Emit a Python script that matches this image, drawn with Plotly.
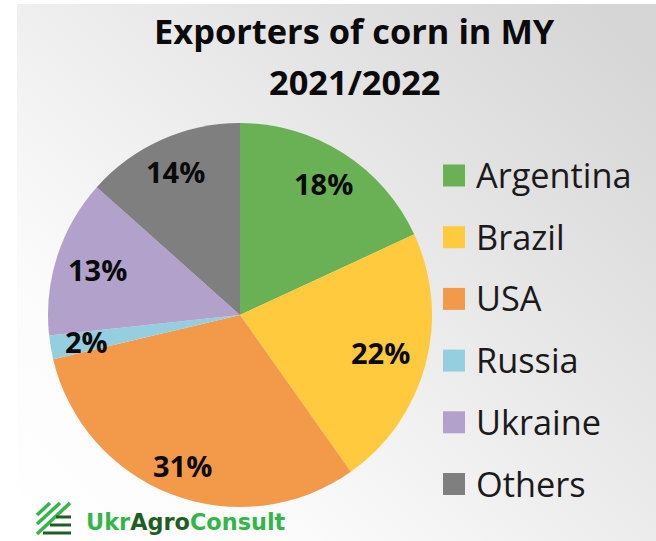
import base64
import math
import plotly.graph_objects as go

categories = ["Argentina", "Brazil", "USA", "Russia", "Ukraine", "Others"]
values = [18.1, 22.1, 31.1, 2.0, 13.3, 13.4]
percent_labels = ["18%", "22%", "31%", "2%", "13%", "14%"]
colors = ["#6ab155", "#ffca3e", "#f39a4a", "#95cfdf", "#b2a1cb", "#7f7f7f"]
label_radius = [0.81, 0.76, 0.84, 0.81, 0.78, 0.82]
W, H = 656, 541
CX, CY, R = 240, 315, 192

svg = ('<svg xmlns="http://www.w3.org/2000/svg" width="656" height="541">'
       '<defs><linearGradient id="g" x1="0" y1="1" x2="1" y2="0.12">'
       '<stop offset="0" stop-color="#ffffff"/><stop offset="0.25" stop-color="#fbfbfb"/>'
       '<stop offset="1" stop-color="#d6d6d6"/></linearGradient></defs>'
       '<rect x="17" y="4" width="639" height="537" fill="url(#g)"/></svg>')
bg = "data:image/svg+xml;base64," + base64.b64encode(svg.encode()).decode()

fig = go.Figure(go.Pie(
    labels=categories, values=values, sort=False, direction="clockwise", rotation=0,
    marker=dict(colors=colors, line=dict(width=0)),
    textinfo="none",
    domain=dict(x=[(CX-R)/W, (CX+R)/W], y=[1-(CY+R)/H, 1-(CY-R)/H]), showlegend=False,
    hoverinfo="label+percent",
))

shapes, ann = [], []
total = sum(values)
cum = 0
for v, t, f in zip(values, percent_labels, label_radius):
    a = 2*math.pi*(cum + v/2)/total
    cum += v
    ann.append(dict(text=f"<b>{t}</b>", xref="paper", yref="paper",
                    x=(CX + f*R*math.sin(a))/W, y=1-(CY - f*R*math.cos(a))/H,
                    xanchor="center", yanchor="middle", showarrow=False,
                    font=dict(family="Open Sans", size=29, color="#0a0a0a")))

for i, (c, col) in enumerate(zip(categories, colors)):
    y = 175.5 + i*61.7
    shapes.append(dict(type="rect", xref="paper", yref="paper", x0=443/W, x1=465/W,
                       y0=1-(y+11)/H, y1=1-(y-11)/H, fillcolor=col, line_width=0))
    ann.append(dict(text=c, xref="paper", yref="paper", x=474/W, y=1-(y-1)/H, xanchor="left", yanchor="middle",
                    showarrow=False, font=dict(family="Open Sans", size=34.3, color="#1a1a1a")))

# title
for line, ty in [("Exporters of corn in MY", 31), ("2021/2022", 81)]:
    ann.append(dict(text=f"<b>{line}</b>", xref="paper", yref="paper",
                    x=354.5/W, y=1-ty/H, xanchor="center", yanchor="middle", showarrow=False,
                    font=dict(family="Open Sans", size=34.4, color="#0a0a0a")))
# logo
ann.append(dict(text='<b><span style="color:#35b44a">Ukr</span><span style="color:#1f5d25">Agro</span>'
                     '<span style="color:#35b44a">Consult</span></b>',
                xref="paper", yref="paper", x=84/W, y=1-522/H, xanchor="left", yanchor="middle",
                showarrow=False, font=dict(family="DejaVu Sans", size=22.4)))
for x0, y0, x1, y1 in [(37, 515, 50, 503), (37, 524, 60, 503), (37, 534, 70, 503)]:
    shapes.append(dict(type="line", xref="paper", yref="paper", x0=x0/W, y0=1-y0/H, x1=x1/W, y1=1-y1/H,
                       line=dict(color="#35b44a", width=3.5)))
for y0, x0 in [(517, 56), (525, 50), (533, 43)]:
    shapes.append(dict(type="line", xref="paper", yref="paper", x0=x0/W, y0=1-y0/H, x1=71/W, y1=1-y0/H,
                       line=dict(color="#1f5d25", width=3)))

fig.update_layout(width=W, height=H, margin=dict(l=0, r=0, t=0, b=0), paper_bgcolor="white",
                  shapes=shapes, annotations=ann,
                  images=[dict(source=bg, xref="paper", yref="paper", x=0, y=1, sizex=1, sizey=1,
                               sizing="stretch", xanchor="left", yanchor="top", layer="below")])
fig.write_html("out.html", config={"displayModeBar": False},
               post_script="document.body.style.margin='0';document.documentElement.style.overflow='hidden';")
